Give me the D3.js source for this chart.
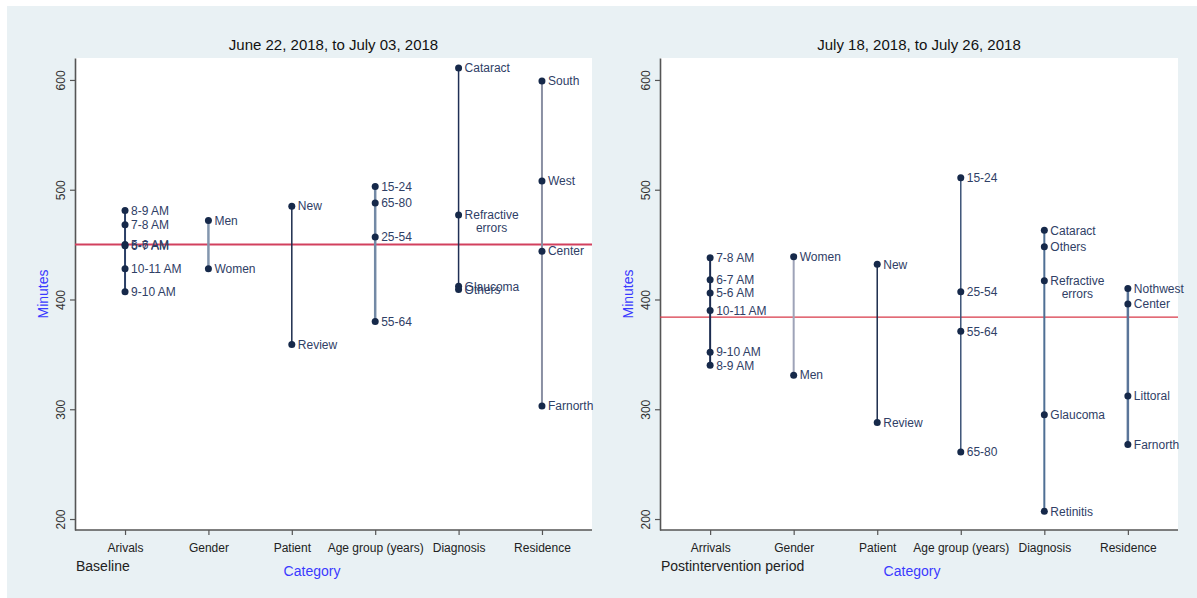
<!DOCTYPE html>
<html><head><meta charset="utf-8">
<script src="https://cdn.jsdelivr.net/npm/d3@7"></script>
<style>
html,body{margin:0;padding:0;background:#fff;}
svg{display:block;font-family:"Liberation Sans Narrow","Liberation Sans",Arial,sans-serif;}
</style></head><body>
<svg id="c" width="1197" height="598"></svg>
<script>
// ---- data ----
const categoriesLeft = ["Arivals","Gender","Patient","Age group (years)","Diagnosis","Residence"];
const categoriesRight = ["Arrivals","Gender","Patient","Age group (years)","Diagnosis","Residence"];
const yTicks = [200,300,400,500,600];

const baselineMean = 450;
const postMean = 384;

const baselineArrivals = [["8-9 AM",481],["7-8 AM",468],["5-6 AM",450],["6-7 AM",449],["10-11 AM",428],["9-10 AM",407]];
const baselineGender = [["Men",472],["Women",428]];
const baselinePatient = [["New",485],["Review",359]];
const baselineAge = [["15-24",503],["65-80",488],["25-54",457],["55-64",380]];
const baselineDiagnosis = [["Cataract",611],["Refractive\nerrors",477],["Glaucoma",412],["Others",409]];
const baselineResidence = [["South",599],["West",508],["Center",444],["Farnorth",303]];

const postArrivals = [["7-8 AM",438],["6-7 AM",418],["5-6 AM",406],["10-11 AM",390],["9-10 AM",352],["8-9 AM",340]];
const postGender = [["Women",439],["Men",331]];
const postPatient = [["New",432],["Review",288]];
const postAge = [["15-24",511],["25-54",407],["55-64",371],["65-80",261]];
const postDiagnosis = [["Cataract",463],["Others",448],["Refractive\nerrors",417],["Glaucoma",295],["Retinitis",207]];
const postResidence = [["Nothwest",410],["Center",396],["Littoral",312],["Farnorth",268]];

const baselineGroups = [baselineArrivals,baselineGender,baselinePatient,baselineAge,baselineDiagnosis,baselineResidence];
const postGroups = [postArrivals,postGender,postPatient,postAge,postDiagnosis,postResidence];

// ---- styles ----
const leftLineColors = ["#2b3f66","#8396ae","#1c2c4c","#7389a5","#1f2f55","#8a90a3"];
const leftLineWidths = [2,2.5,1.5,2.5,1.5,2];
const rightLineColors = ["#1c2c50","#9ea3b8","#1c2c4c","#3d5478","#4f6f94","#5a7599"];
const rightLineWidths = [2,2,1.5,1.5,2,2.5];

const svg = d3.select("#c");
svg.append("rect").attr("x",7).attr("y",6).attr("width",1190).attr("height",592).attr("fill","#e9f1f4");

function panel(opts){
  const {x0,x1,y0,y1,cats,groups,mean,title,note,colors,widths,meanW,meanColor,catX} = opts;
  const g = svg.append("g");
  g.append("rect").attr("x",x0).attr("y",y0).attr("width",x1-x0).attr("height",y1-y0).attr("fill","#fff");
  const x = d3.scalePoint().domain(cats).range([x0,x1]).padding(0.6);
  const y = d3.scaleLinear().domain([190,620]).range([y1,y0]);

  const ya = g.append("g").attr("transform",`translate(${x0},0)`)
    .call(d3.axisLeft(y).tickValues(yTicks).tickSize(5).tickSizeOuter(0).tickFormat(d3.format("d")));
  ya.select(".domain").attr("stroke","#555").attr("stroke-width",1.6);
  ya.selectAll(".tick line").attr("stroke","#555").attr("stroke-width",1.2);
  ya.selectAll(".tick text").attr("transform","rotate(-90)").attr("x",0).attr("y",-10)
    .attr("dy",0).attr("text-anchor","middle").attr("fill","#333").style("font-size","12px")
    .style("font-family","'Liberation Sans',Arial,sans-serif");
  const xa = g.append("g").attr("transform",`translate(0,${y1})`)
    .call(d3.axisBottom(x).tickSize(5).tickSizeOuter(0));
  xa.select(".domain").attr("stroke","#555").attr("stroke-width",1.6).attr("d",`M${x0},0H${x1}`);
  xa.selectAll(".tick line").attr("stroke","#555").attr("stroke-width",1.2);
  xa.selectAll(".tick text").attr("y",13).attr("dy","0.71em").attr("fill","#222").style("font-size","12px");

  g.append("line").attr("x1",x0).attr("x2",x1).attr("y1",y(mean)).attr("y2",y(mean))
    .attr("stroke",meanColor).attr("stroke-width",meanW);

  groups.forEach((grp,i)=>{
    const cx = x(cats[i]);
    const vals = grp.map(d=>d[1]);
    g.append("line").attr("x1",cx).attr("x2",cx).attr("y1",y(d3.max(vals))).attr("y2",y(d3.min(vals)))
      .attr("stroke",colors[i]).attr("stroke-width",widths[i]);
    grp.forEach(d=>{
      g.append("circle").attr("cx",cx).attr("cy",y(d[1])).attr("r",3.5).attr("fill","#16294a");
      const lines = d[0].split("\n");
      const t = g.append("text").attr("x",cx+6).attr("y",y(d[1])).attr("dy","0.35em")
        .attr("fill","#2f4066").style("font-size","12px").text(lines[0]);
      if(lines.length>1){
        const w = t.node().getComputedTextLength();
        g.append("text").attr("x",cx+6+w/2).attr("y",y(d[1])+13).attr("dy","0.35em")
          .attr("text-anchor","middle").attr("fill","#2f4066").style("font-size","12px").text(lines[1]);
      }
    });
  });

  svg.append("text").attr("x",(x0+x1)/2).attr("y",50).attr("text-anchor","middle")
    .style("font-size","15px").style("font-family","'Liberation Sans',Arial,sans-serif").attr("fill","#111").text(title);
  svg.append("text").attr("transform",`translate(${x0-27},${(y0+y1)/2}) rotate(-90)`).attr("text-anchor","middle")
    .style("font-size","14px").style("font-family","'Liberation Sans',Arial,sans-serif").attr("fill","#3a3aff").text("Minutes");
  svg.append("text").attr("x",x0+1).attr("y",571).style("font-size","14px").attr("fill","#222").text(note);
  svg.append("text").attr("x",catX).attr("y",576).attr("text-anchor","middle")
    .style("font-size","14px").style("font-family","'Liberation Sans',Arial,sans-serif").attr("fill","#3a3aff").text("Category");
}

panel({x0:75,x1:592,y0:58,y1:530,cats:categoriesLeft,groups:baselineGroups,mean:baselineMean,
  title:"June 22, 2018, to July 03, 2018",note:"Baseline",colors:leftLineColors,widths:leftLineWidths,
  meanW:2,meanColor:"#d2405e",catX:312});
panel({x0:660,x1:1178,y0:58,y1:530,cats:categoriesRight,groups:postGroups,mean:postMean,
  title:"July 18, 2018, to July 26, 2018",note:"Postintervention period",colors:rightLineColors,widths:rightLineWidths,
  meanW:1.3,meanColor:"#d83848",catX:912});
</script>
</body></html>
